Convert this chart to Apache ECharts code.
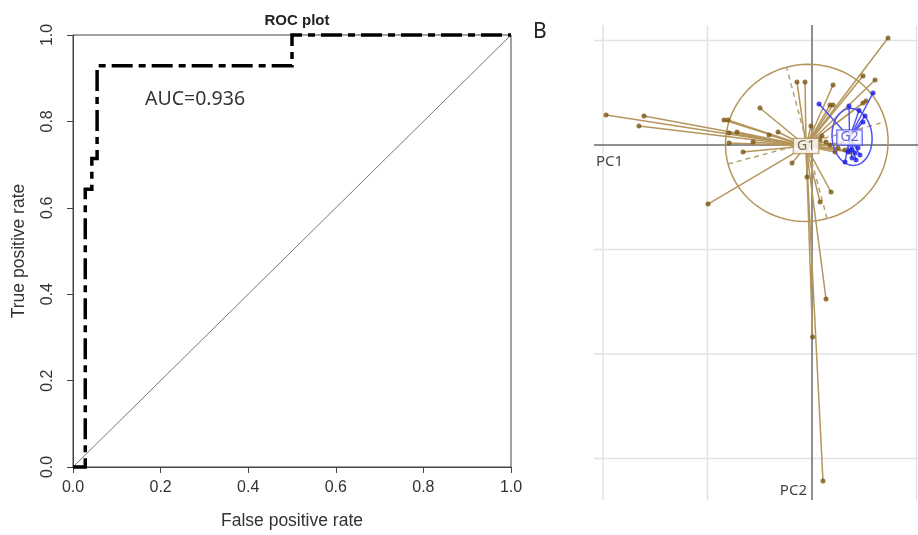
<!DOCTYPE html>
<html><head><meta charset="utf-8">
<script src="https://cdn.jsdelivr.net/npm/echarts/dist/echarts.min.js"></script>
<style>html,body{margin:0;padding:0;background:#fff}#c{width:918px;height:535px}</style>
</head><body><div id="c"></div>
<script>
// ---------- Panel A: ROC ----------
const rocFPR = [0, 0.028, 0.028, 0.043, 0.043, 0.055, 0.055, 0.5, 0.5, 1];
const rocTPR = [0, 0, 0.643, 0.643, 0.714, 0.714, 0.929, 0.929, 1, 1];
const refFPR = [0, 1];
const refTPR = [0, 1];
const rocTitle = 'ROC plot';
const aucLabel = 'AUC=0.936';
const xName = 'False positive rate';
const yName = 'True positive rate';

// ---------- Panel B: PCA group plot ----------
const pcXRange = [-2.086, 1.014];
const pcYRange = [-3.397, 1.148];
const gridXs = [-2, -1, 1];
const gridYs = [1, -1, -2, -3];
const g1Center = [-0.057, -0.01];
const g2Center = [0.359, 0.072];
const g1X = [0.727, -1.971, -1.608, -1.656, -0.144, -0.067, -0.498, -0.842, -0.804, -0.794, -0.718, -0.411, -0.325, -0.794, -0.565, -0.660, -0.191, -0.995, -0.048, 0.182, 0.077, -0.010, 0.488, 0.603, 0.201, 0.488, 0.517, 0.134, 0.005, 0.105, 0.201, 0.172, 0.249, 0.316, 0.220, 0.287, 0.134, 0.364, 0.077, 0.096, 0.172];
const g1Y = [1.024, 0.287, 0.278, 0.182, 0.603, 0.603, 0.354, 0.239, 0.239, 0.115, 0.124, 0.096, 0.124, 0.019, 0.029, -0.067, -0.172, -0.565, -0.306, -0.450, -0.545, 0.182, 0.660, 0.622, 0.574, 0.402, 0.421, -1.474, -1.837, -3.215, 0.383, 0.0, -0.029, -0.048, -0.067, 0.019, 0.029, -0.067, 0.048, 0.086, 0.383];
const g2X = [0.067, 0.354, 0.584, 0.488, 0.507, 0.450, 0.373, 0.411, 0.440, 0.383, 0.459, 0.344, 0.421, 0.316];
const g2Y = [0.392, 0.373, 0.498, 0.220, 0.278, 0.330, -0.048, -0.077, -0.029, -0.124, -0.096, -0.067, -0.144, -0.163];
// ellipse: [centerX, centerY, semiAxisA, semiAxisB, angleDeg]
const g1Ellipse = [-0.05, 0.02, 0.78, 0.75, 15];
const g2Ellipse = [0.383, 0.077, 0.273, 0.191, 95];
const groupNames = ['G1', 'G2'];
const axisNames = ['PC1', 'PC2'];
const panelLetter = 'B';

const tan = '#b4965c', brown = '#7a5512', blueLine = '#4f4ff0', blueDot = '#1c1ce8';

function zipPairs(xs, ys) { return xs.map((x, i) => [x, ys[i]]); }

function segRender(style) {
  return function (params, api) {
    const p1 = api.coord([api.value(0), api.value(1)]);
    const p2 = api.coord([api.value(2), api.value(3)]);
    return { type: 'line', shape: { x1: p1[0], y1: p1[1], x2: p2[0], y2: p2[1] }, style: style };
  };
}
function spokeRender(center, style) {
  return function (params, api) {
    const c = api.coord(center);
    const p = api.coord([api.value(0), api.value(1)]);
    return { type: 'line', shape: { x1: c[0], y1: c[1], x2: p[0], y2: p[1] }, style: style };
  };
}
function ellipseRender(stroke, dashStroke) {
  return function (params, api) {
    const cx = api.value(0), cy = api.value(1), a = api.value(2), b = api.value(3);
    const ang = api.value(4) * Math.PI / 180, ca = Math.cos(ang), sa = Math.sin(ang);
    const pts = [];
    for (let k = 0; k <= 96; k++) {
      const t = k / 96 * 2 * Math.PI;
      const ex = a * Math.cos(t), ey = b * Math.sin(t);
      pts.push(api.coord([cx + ex * ca - ey * sa, cy + ex * sa + ey * ca]));
    }
    const children = [{ type: 'polyline', shape: { points: pts }, style: { fill: null, stroke: stroke, lineWidth: 1.5 } }];
    if (dashStroke) {
      const m1 = api.coord([cx - a * ca, cy - a * sa]), m2 = api.coord([cx + a * ca, cy + a * sa]);
      const n1 = api.coord([cx + b * sa, cy - b * ca]), n2 = api.coord([cx - b * sa, cy + b * ca]);
      children.push({ type: 'line', shape: { x1: m1[0], y1: m1[1], x2: m2[0], y2: m2[1] }, style: { stroke: dashStroke, lineWidth: 1.5, lineDash: [5, 4] } });
      children.push({ type: 'line', shape: { x1: n1[0], y1: n1[1], x2: n2[0], y2: n2[1] }, style: { stroke: dashStroke, lineWidth: 1.5, lineDash: [5, 4] } });
    }
    return { type: 'group', children: children };
  };
}

const gridSegs = [];
gridXs.forEach(x => gridSegs.push([x, pcYRange[1], x, pcYRange[0]]));
gridYs.forEach(y => gridSegs.push([pcXRange[0], y, pcXRange[1], y]));
const axisSegs = [[pcXRange[0], 0, pcXRange[1], 0], [0, pcYRange[1], 0, pcYRange[0]]];

const chart = echarts.init(document.getElementById('c'), null, { renderer: 'canvas' });
const armFont = 'Liberation Sans, Arial, sans-serif';
const pcHidden = { show: false };

chart.setOption({
  animation: false,
  backgroundColor: '#fff',
  title: {
    text: rocTitle, left: 292, top: 8, textAlign: 'center',
    textStyle: { fontFamily: armFont, fontWeight: 'bold', fontSize: 15, color: '#222' }
  },
  grid: [
    { left: 73, top: 35, width: 438, height: 437, show: true, borderColor: '#444', borderWidth: 1, backgroundColor: 'transparent' },
    { left: 594, top: 25, width: 324, height: 475, show: false }
  ],
  xAxis: [
    {
      gridIndex: 0, type: 'value', min: 0, max: 1, interval: 0.2,
      name: xName, nameLocation: 'middle', nameGap: 45,
      nameTextStyle: { fontFamily: armFont, fontSize: 17.5, color: '#333' },
      axisLine: { show: true, onZero: false, lineStyle: { color: '#444', width: 1 } },
      axisTick: { show: true, length: 6, lineStyle: { color: '#444' } },
      axisLabel: { fontFamily: armFont, fontSize: 16, color: '#333', margin: 13, formatter: v => v.toFixed(1) },
      splitLine: { show: false }
    },
    {
      gridIndex: 1, type: 'value', min: pcXRange[0], max: pcXRange[1],
      axisLine: pcHidden, axisTick: pcHidden, axisLabel: pcHidden, splitLine: pcHidden
    }
  ],
  yAxis: [
    {
      gridIndex: 0, type: 'value', min: 0, max: 1, interval: 0.2,
      name: yName, nameLocation: 'middle', nameGap: 45,
      nameTextStyle: { fontFamily: armFont, fontSize: 17.5, color: '#333' },
      axisLine: { show: true, onZero: false, lineStyle: { color: '#444', width: 1 } },
      axisTick: { show: true, length: 6, lineStyle: { color: '#444' } },
      axisLabel: { fontFamily: armFont, fontSize: 16, color: '#333', margin: 17, rotate: 90, formatter: v => v.toFixed(1) },
      splitLine: { show: false }
    },
    {
      gridIndex: 1, type: 'value', min: pcYRange[0], max: pcYRange[1],
      axisLine: pcHidden, axisTick: pcHidden, axisLabel: pcHidden, splitLine: pcHidden
    }
  ],
  graphic: [
    { type: 'text', z: 100, x: 145, y: 99, style: { text: aucLabel, font: '19.5px "Noto Sans"', fill: '#333', verticalAlign: 'middle' } },
    { type: 'text', z: 100, x: 533, y: 32, style: { text: panelLetter, font: '21px "Noto Sans"', fill: '#222', verticalAlign: 'middle' } },
    { type: 'text', z: 100, x: 596, y: 162, style: { text: axisNames[0], font: '15px "Noto Sans"', fill: '#444', verticalAlign: 'middle' } },
    { type: 'text', z: 100, x: 807, y: 491, style: { text: axisNames[1], font: '15px "Noto Sans"', fill: '#444', align: 'right', verticalAlign: 'middle' } }
  ],
  series: [
    {
      type: 'line', xAxisIndex: 0, yAxisIndex: 0, data: zipPairs(refFPR, refTPR),
      symbol: 'none', lineStyle: { color: '#777', width: 1 }, z: 2
    },
    {
      type: 'line', xAxisIndex: 0, yAxisIndex: 0, data: zipPairs(rocFPR, rocTPR),
      symbol: 'none', clip: false, lineStyle: { color: '#000', width: 3.5, type: [21, 6, 7, 6], cap: 'butt', join: 'miter' }, z: 3
    },
    {
      type: 'custom', xAxisIndex: 1, yAxisIndex: 1, data: gridSegs, clip: true,
      renderItem: segRender({ stroke: '#e2e2e2', lineWidth: 1.5 }), z: 1
    },
    {
      type: 'custom', xAxisIndex: 1, yAxisIndex: 1, data: axisSegs, clip: true,
      renderItem: segRender({ stroke: '#6a6a6a', lineWidth: 1.5 }), z: 2
    },
    {
      type: 'custom', xAxisIndex: 1, yAxisIndex: 1, data: [g1Ellipse], clip: true,
      renderItem: ellipseRender(tan, '#b8a272'), z: 3
    },
    {
      type: 'custom', xAxisIndex: 1, yAxisIndex: 1, data: zipPairs(g1X, g1Y), clip: true,
      renderItem: spokeRender(g1Center, { stroke: tan, lineWidth: 1.5 }), z: 4
    },
    {
      type: 'scatter', xAxisIndex: 1, yAxisIndex: 1, data: zipPairs(g1X, g1Y),
      symbolSize: 5, itemStyle: { color: brown }, z: 5
    },
    {
      type: 'custom', xAxisIndex: 1, yAxisIndex: 1, data: [g2Ellipse], clip: true,
      renderItem: ellipseRender(blueLine, null), z: 6
    },
    {
      type: 'custom', xAxisIndex: 1, yAxisIndex: 1, data: zipPairs(g2X, g2Y), clip: true,
      renderItem: spokeRender(g2Center, { stroke: blueLine, lineWidth: 1.4 }), z: 6
    },
    {
      type: 'scatter', xAxisIndex: 1, yAxisIndex: 1, data: zipPairs(g2X, g2Y),
      symbolSize: 5, itemStyle: { color: blueDot }, z: 7
    },
    {
      type: 'scatter', xAxisIndex: 1, yAxisIndex: 1, data: [g1Center], symbolSize: 0, z: 8,
      label: { show: true, position: 'inside', formatter: groupNames[0], fontFamily: 'Noto Sans', fontSize: 14, color: '#5e4d2c',
        backgroundColor: '#fff', borderColor: tan, borderWidth: 1.3, padding: [0, 3] }
    },
    {
      type: 'scatter', xAxisIndex: 1, yAxisIndex: 1, data: [g2Center], symbolSize: 0, z: 8,
      label: { show: true, position: 'inside', formatter: groupNames[1], fontFamily: 'Noto Sans', fontSize: 14, color: '#3c3cd0',
        backgroundColor: '#fff', borderColor: blueLine, borderWidth: 1.3, padding: [0, 3] }
    }
  ]
});
</script>
</body></html>
